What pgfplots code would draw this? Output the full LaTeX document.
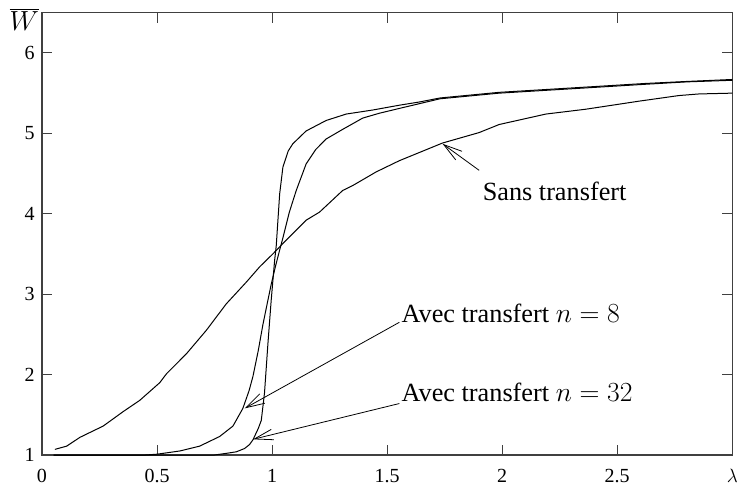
\documentclass[border=0pt]{standalone}
\usepackage{fontspec}
\setmainfont{Liberation Serif}
\usepackage{pgfplots}
\pgfplotsset{compat=1.18}
\usetikzlibrary{arrows.meta}
\pgfplotstableread{
x y
0.056 1.07
0.107 1.11
0.165 1.22
0.266 1.36
0.353 1.54
0.425 1.68
0.512 1.90
0.541 2.01
0.628 2.26
0.714 2.55
0.801 2.88
0.888 3.15
0.946 3.34
1.003 3.50
1.047 3.63
1.148 3.92
1.206 4.02
1.307 4.29
1.350 4.35
1.452 4.52
1.553 4.66
1.741 4.88
1.900 5.01
1.987 5.11
2.190 5.24
2.363 5.30
2.594 5.40
2.768 5.47
2.855 5.49
3.000 5.50
}\sans
\pgfplotstableread{
x y
0.05 1.00
0.45 1.00
0.50 1.01
0.599 1.05
0.685 1.11
0.772 1.23
0.830 1.36
0.873 1.58
0.900 1.80
0.917 1.98
0.940 2.30
0.960 2.62
0.980 2.90
0.996 3.12
1.015 3.35
1.033 3.55
1.047 3.70
1.075 4.02
1.105 4.29
1.148 4.62
1.190 4.80
1.235 4.93
1.307 5.05
1.394 5.19
1.466 5.25
1.553 5.31
1.73 5.43
1.987 5.50
2.334 5.56
2.62 5.61
2.80 5.64
3.00 5.66
}\neight
\pgfplotstableread{
x y
0.05 1.00
0.75 1.00
0.80 1.02
0.845 1.04
0.880 1.08
0.902 1.13
0.917 1.19
0.940 1.33
0.953 1.43
0.967 1.77
0.982 2.39
0.996 2.92
1.011 3.42
1.018 3.60
1.033 4.25
1.047 4.58
1.070 4.78
1.090 4.87
1.148 5.03
1.235 5.16
1.322 5.24
1.437 5.29
1.553 5.35
1.64 5.39
1.73 5.44
1.987 5.51
2.334 5.57
2.62 5.62
2.80 5.645
3.00 5.67
}\nthirtytwo
\begin{document}
\begin{tikzpicture}
\begin{axis}[
  scale only axis,
  width=517.7pt, height=331.7pt,
  xmin=0, xmax=3, ymin=1, ymax=6.5,
  xtick={0,0.5,1,1.5,2,2.5,3},
  xticklabels={0,0.5,1,1.5,2,2.5,$\lambda$},
  ytick={1,2,3,4,5,6},
  /pgf/number format/assume math mode=true,
  tick label style={font=\fontsize{15}{18}\selectfont},
  xticklabel style={yshift=-7pt},
  yticklabel style={xshift=-2pt},
  major tick length=7.5pt,
  tick style={black!75, line width=0.8pt},
  axis line style={black!75, line width=0.9pt},
  clip=false,
  every axis plot/.append style={black, line width=0.75pt},
]
\addplot[no marks] table {\sans};
\addplot[no marks] table {\neight};
\addplot[no marks] table {\nthirtytwo};
\draw[-{Straight Barb[length=14pt,width=8pt]}, line width=0.6pt] (axis cs:1.553,2.65) -- (axis cs:0.881,1.58);
\draw[-{Straight Barb[length=14pt,width=8pt]}, line width=0.6pt] (axis cs:1.553,1.64) -- (axis cs:0.917,1.195);
\draw[-{Straight Barb[length=14pt,width=8pt]}, line width=0.6pt] (axis cs:1.90,4.54) -- (axis cs:1.741,4.87);
\node[anchor=base west, inner sep=0pt, font=\fontsize{19.7}{24}\selectfont] at (axis cs:1.562,2.65) {Avec transfert $n=8$};
\node[anchor=base west, inner sep=0pt, font=\fontsize{19.7}{24}\selectfont] at (axis cs:1.562,1.66) {Avec transfert $n=32$};
\node[anchor=base, inner sep=0pt, font=\fontsize{19.7}{24}\selectfont] at (axis cs:2.228,4.16) {Sans transfert};
\node[anchor=base, inner sep=0pt, font=\fontsize{20.74}{24}\selectfont] at (axis cs:-0.077,6.285) {$\overline{W}$};
\end{axis}
\begin{axis}[
  scale only axis,
  width=517.7pt, height=331.7pt,
  xmin=0, xmax=3, ymin=1, ymax=6.5,
  xtick=\empty, ytick=\empty,
  minor ytick={1.1,1.2,...,6.45},
  ytick pos=left,
  minor tick length=2pt,
  minor tick style={black!75, line width=0.6pt},
  axis line style={draw=none},
]
\end{axis}
\pgfresetboundingbox
\useasboundingbox (-31.5pt,-23.25pt) rectangle (522.75pt,341.25pt);
\end{tikzpicture}
\end{document}
